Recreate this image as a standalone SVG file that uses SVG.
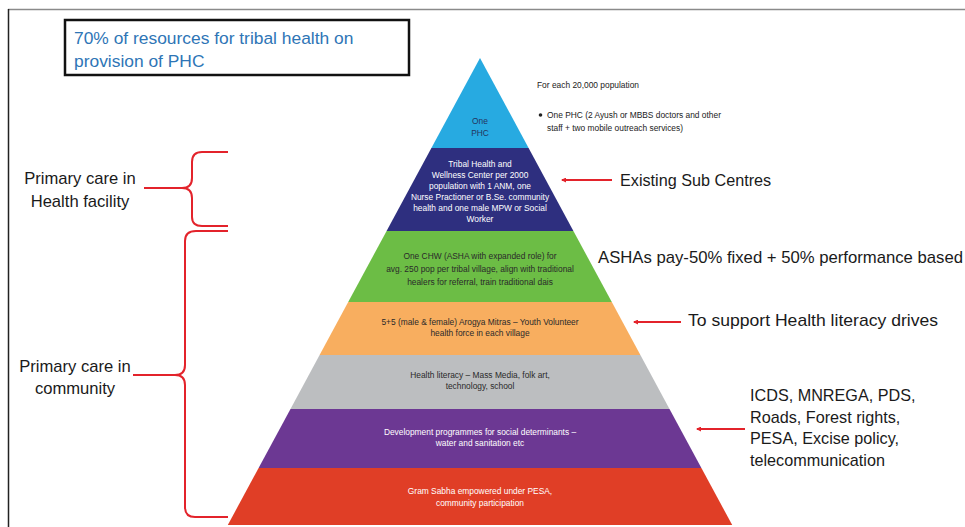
<svg xmlns="http://www.w3.org/2000/svg" width="965" height="527" viewBox="0 0 965 527">
<defs>
<marker id="ah" viewBox="0 0 10 10" refX="8" refY="5" markerWidth="7" markerHeight="5" orient="auto" markerUnits="userSpaceOnUse">
<path d="M10,5 L0,0 L0,10 Z" fill="#e3232b"/>
</marker>
<style>
text{font-family:"Liberation Sans",Arial,sans-serif;}
.s{font-size:8.4px;text-anchor:middle;}
.w{fill:#ffffff;}
.d{fill:#2a2a2a;}
.lab{font-size:16.2px;fill:#1a1a1a;}
.side{font-size:16.6px;fill:#1a1a1a;text-anchor:middle;}
.brace{fill:none;stroke:#e3232b;stroke-width:2;}
.arr{fill:none;stroke:#e3232b;stroke-width:2;}
</style>
</defs>
<rect width="965" height="527" fill="#ffffff"/>
<g id="frame">
<line x1="8" y1="9.5" x2="965" y2="9.5" stroke="#8a8a8a" stroke-width="1.5"/>
<line x1="8.5" y1="9" x2="8.5" y2="527" stroke="#222" stroke-width="1.5"/>
</g>
<g id="title">
<rect x="65" y="20" width="344" height="55" fill="#ffffff" stroke="#111" stroke-width="2.5"/>
<text x="74" y="44" font-size="17.4" fill="#2e75b6">70% of resources for tribal health on</text>
<text x="74" y="67" font-size="17.4" fill="#2e75b6">provision of PHC</text>
</g>
<g id="layer-phc">
<polygon points="480,58 528.6,148 431.4,148" fill="#27aae1"/>
<text class="s" x="480" y="124" fill="#24345e">One</text>
<text class="s" x="480" y="136" fill="#24345e">PHC</text>
</g>
<g id="layer-hwc">
<polygon points="431.4,148 528.6,148 573.4,231 386.6,231" fill="#2e2f7f"/>
<text class="s w" x="480" y="167">Tribal Health and</text>
<text class="s w" x="480" y="178">Wellness Center per 2000</text>
<text class="s w" x="480" y="189">population with 1 ANM, one</text>
<text class="s w" x="480" y="200">Nurse Practioner or B.Se. community</text>
<text class="s w" x="480" y="211">health and one male MPW or Social</text>
<text class="s w" x="480" y="222">Worker</text>
</g>
<g id="layer-chw">
<polygon points="386.6,231 573.4,231 611.8,302 348.2,302" fill="#6cbd45"/>
<text class="s d" x="480" y="259">One CHW (ASHA with expanded role) for</text>
<text class="s d" x="480" y="272">avg. 250 pop per tribal village, align with traditional</text>
<text class="s d" x="480" y="285">healers for referral, train traditional dais</text>
</g>
<g id="layer-arogya">
<polygon points="348.2,302 611.8,302 640.4,355 319.6,355" fill="#f8ae5f"/>
<text class="s d" x="480" y="325">5+5 (male &amp; female) Arogya Mitras – Youth Volunteer</text>
<text class="s d" x="480" y="336">health force in each village</text>
</g>
<g id="layer-literacy">
<polygon points="319.6,355 640.4,355 669.5,409 290.5,409" fill="#bcbec0"/>
<text class="s d" x="480" y="378">Health literacy – Mass Media, folk art,</text>
<text class="s d" x="480" y="389">technology, school</text>
</g>
<g id="layer-development">
<polygon points="290.5,409 669.5,409 701.4,468 258.6,468" fill="#6c3893"/>
<text class="s w" x="480" y="435">Development programmes for social determinants –</text>
<text class="s w" x="480" y="446">water and sanitation etc</text>
</g>
<g id="layer-gramsabha">
<polygon points="258.6,468 701.4,468 732.2,525 227.8,525" fill="#e03e26"/>
<text class="s w" x="480" y="494">Gram Sabha empowered under PESA,</text>
<text class="s w" x="480" y="506">community participation</text>
</g>
<g id="phc-note">
<text x="537" y="88" font-size="8.4" fill="#222">For each 20,000 population</text>
<circle cx="540.5" cy="115" r="1.8" fill="#222"/>
<text x="547" y="118" font-size="8.4" fill="#222">One PHC (2 Ayush or MBBS doctors and other</text>
<text x="547" y="131" font-size="8.4" fill="#222">staff + two mobile outreach services)</text>
</g>
<g id="label-facility">
<text class="side" x="80" y="184">Primary care in</text>
<text class="side" x="80" y="207">Health facility</text>
</g>
<g id="label-community">
<text class="side" x="75" y="372">Primary care in</text>
<text class="side" x="75" y="394">community</text>
</g>
<g id="label-subcentres">
<text class="lab" x="620" y="186">Existing Sub Centres</text>
</g>
<g id="label-ashas">
<text class="lab" x="598" y="263" textLength="365" lengthAdjust="spacingAndGlyphs">ASHAs pay-50% fixed + 50% performance based</text>
</g>
<g id="label-literacy">
<text class="lab" x="688" y="326" textLength="250" lengthAdjust="spacingAndGlyphs">To support Health literacy drives</text>
</g>
<g id="label-schemes">
<text class="lab" x="750" y="401">ICDS, MNREGA, PDS,</text>
<text class="lab" x="750" y="423">Roads, Forest rights,</text>
<text class="lab" x="750" y="444">PESA, Excise policy,</text>
<text class="lab" x="750" y="466">telecommunication</text>
</g>
<g id="connectors">
<path class="brace" d="M228,152 L202,152 Q192,152 192,162 L192,178 Q192,188 182,188 L144,188 M182,188 Q192,188 192,198 L192,217 Q192,226 202,226 L228,226"/>
<path class="brace" d="M228,231 L196,231 Q185,231 185,241 L185,365 Q185,375 175,375 L133,375 M175,375 Q185,375 185,385 L185,507 Q185,517 195,517 L228,517"/>
<line class="arr" x1="612" y1="180" x2="562" y2="180" marker-end="url(#ah)"/>
<line class="arr" x1="681" y1="322" x2="634" y2="322" marker-end="url(#ah)"/>
<line class="arr" x1="745" y1="429" x2="697" y2="429" marker-end="url(#ah)"/>
</g>
</svg>
